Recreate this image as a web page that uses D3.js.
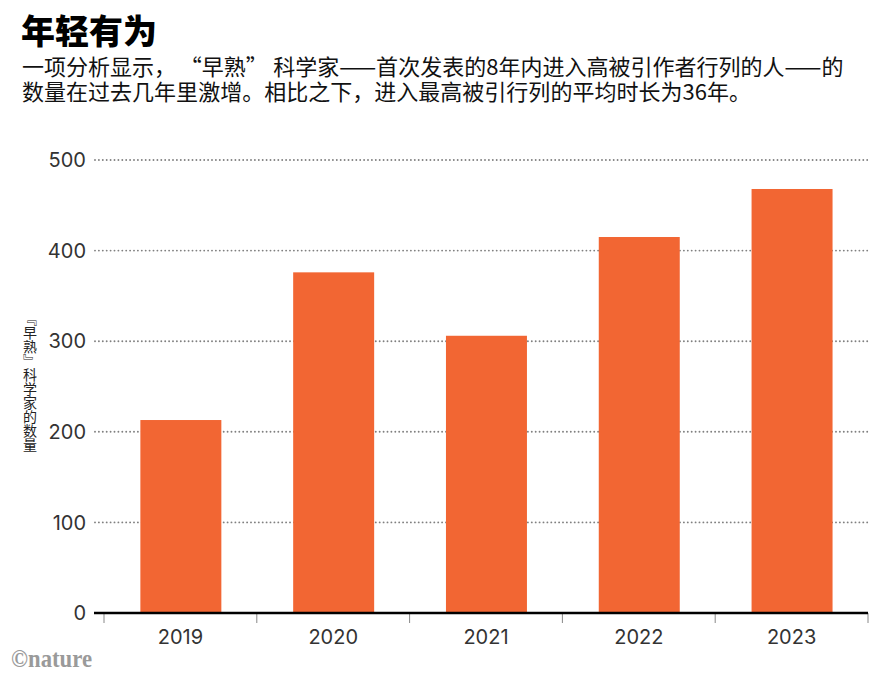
<!DOCTYPE html>
<html>
<head>
<meta charset="utf-8">
<script src="https://cdn.jsdelivr.net/npm/d3@7"></script>
<style>
  html, body { margin: 0; padding: 0; background: #fff; }
  svg { display: block; }
</style>
</head>
<body>
<svg id="chart" width="870" height="677"></svg>
<script>
const categories = ["2019", "2020", "2021", "2022", "2023"];
const values = [213, 376, 306, 415, 468];
const yTicks = [0, 100, 200, 300, 400, 500];
const titleText = "年轻有为";
const subtitleLines = [
  "一项分析显示，“早熟”科学家——首次发表的8年内进入高被引作者行列的人——的",
  "数量在过去几年里激增。相比之下，进入最高被引行列的平均时长为36年。"
];
const yTitle = "『早熟』科学家的数量";
const creditText = "©nature";

const svg = d3.select("#chart");
const cjk = "'Noto Sans CJK SC', 'Noto Sans', sans-serif";
const num = "Inter, Roboto, 'Noto Sans', sans-serif";

const plotLeft = 95, plotRight = 870, axisLeft = 104, axisRight = 868;
const x = d3.scaleBand().domain(categories).range([axisLeft, axisRight]).padding(0);
const y = d3.scaleLinear().domain([0, 500]).range([613, 160]);

// Title & subtitle
svg.append("text").attr("x", 21).attr("y", 44)
  .style("font-family", cjk).style("font-weight", 900).style("font-size", "34px")
  .attr("fill", "#000").text(titleText);

const subSize = 22;
subtitleLines.forEach((line, i) => {
  // widen curly quotes to full-width spacing, as in the reference
  const chars = Array.from(line);
  const dx = chars.map((c, k) => {
    if (c === "“") return 0.66 * subSize;
    if (k > 0 && chars[k - 1] === "”") return 0.25 * subSize;
    return 0;
  });
  svg.append("text").attr("x", 22).attr("y", 75 + i * 25)
    .attr("dx", dx.join(" "))
    .style("font-family", cjk).style("font-size", subSize + "px").attr("fill", "#111")
    .text(line);
});

// Gridlines
svg.append("g").selectAll("line").data(yTicks.filter(t => t > 0)).join("line")
  .attr("x1", plotLeft).attr("x2", plotRight)
  .attr("y1", d => y(d)).attr("y2", d => y(d))
  .attr("stroke", "#808080").attr("stroke-width", 1.9)
  .attr("stroke-linecap", "round").attr("stroke-dasharray", "0,3.9");

// Y tick labels
svg.append("g").selectAll("text").data(yTicks).join("text")
  .attr("x", 86).attr("y", d => y(d)).attr("dy", "0.36em")
  .attr("text-anchor", "end")
  .style("font-family", num).style("font-size", "20px").attr("fill", "#333")
  .text(d => d);

// Bars
const bw = x.bandwidth();
svg.append("g").selectAll("rect").data(categories).join("rect")
  .attr("x", d => x(d) + bw * 0.238)
  .attr("width", bw * 0.53)
  .attr("y", (d, i) => y(values[i]))
  .attr("height", (d, i) => y(0) - y(values[i]))
  .attr("fill", "#f26633");

// X axis ticks at band boundaries
const bounds = categories.map(c => x(c)).concat([axisRight]);
svg.append("g").selectAll("line").data(bounds).join("line")
  .attr("x1", d => d).attr("x2", d => d)
  .attr("y1", y(0)).attr("y2", y(0) + 10)
  .attr("stroke", "#888").attr("stroke-width", 1);

// Baseline
svg.append("line").attr("x1", plotLeft - 1).attr("x2", axisRight)
  .attr("y1", y(0)).attr("y2", y(0))
  .attr("stroke", "#000").attr("stroke-width", 2.6);

// X labels
svg.append("g").selectAll("text").data(categories).join("text")
  .attr("x", d => x(d) + bw / 2).attr("y", 644)
  .attr("text-anchor", "middle")
  .style("font-family", num).style("font-size", "20px").attr("fill", "#333")
  .text(d => d);

// Y title (vertical)
svg.append("text").attr("x", 30).attr("y", 382)
  .attr("text-anchor", "middle")
  .style("writing-mode", "vertical-rl")
  .style("font-family", cjk).style("font-size", "14px").attr("fill", "#222")
  .text(yTitle);

// Credit
svg.append("text").attr("x", 11).attr("y", 667)
  .attr("textLength", 81).attr("lengthAdjust", "spacingAndGlyphs")
  .style("font-family", "'Liberation Serif', serif").style("font-weight", 700)
  .style("font-size", "25px").attr("fill", "#9a9a9a")
  .text(creditText);
</script>
</body>
</html>
